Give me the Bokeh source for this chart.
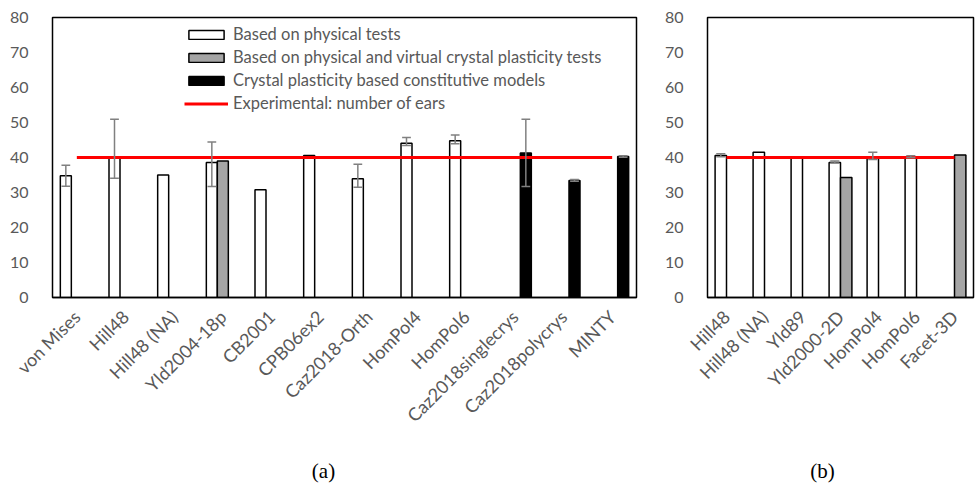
from math import pi
from bokeh.plotting import figure
from bokeh.layouts import row, column
from bokeh.models import ColumnDataSource, Legend, LegendItem, FactorRange, Range1d
from bokeh.core.properties import value
from bokeh.transform import dodge
from bokeh.embed import file_html
from bokeh.resources import INLINE

# ---------------- data: panel (a) ----------------
models_a = ["von Mises", "Hill48", "Hill48 (NA)", "Yld2004-18p", "CB2001", "CPB06ex2",
            "Caz2018-Orth", "HomPol4", "HomPol6", "Caz2018singlecrys", "Caz2018polycrys", "MINTY"]
physical_a = [34.8, 40.0, 35.0, 38.6, 30.8, 40.6, 33.9, 44.1, 44.8, None, None, None]
virtual_a = [None, None, None, 39.0, None, None, None, None, None, None, None, None]
crystal_a = [None, None, None, None, None, None, None, None, None, 41.3, 33.4, 40.3]
physical_hi_a = [37.8, 50.9, None, 44.4, None, None, 38.1, 45.7, 46.4, None, None, None]
physical_lo_a = [31.8, 34.1, None, 31.7, None, None, 31.5, 43.4, 43.9, None, None, None]
crystal_hi_a = [None, None, None, None, None, None, None, None, None, 50.9, 33.7, 40.5]
crystal_lo_a = [None, None, None, None, None, None, None, None, None, 31.7, 33.2, 40.1]

# ---------------- data: panel (b) ----------------
models_b = ["Hill48", "Hill48 (NA)", "Yld89", "Yld2000-2D", "HomPol4", "HomPol6", "Facet-3D"]
physical_b = [40.6, 41.5, 40.0, 38.6, 39.8, 40.2, None]
virtual_b = [None, None, None, 34.3, None, None, 40.7]
physical_hi_b = [41.1, None, None, 39.0, 41.5, 40.5, None]
physical_lo_b = [40.2, None, None, 38.4, 39.4, 39.9, None]

experimental_ears = 40
y_ticks = [0, 10, 20, 30, 40, 50, 60, 70, 80]

series_labels = ["Based on physical tests",
                 "Based on physical and virtual crystal plasticity tests",
                 "Crystal plasticity based constitutive models",
                 "Experimental: number of ears"]
captions = ["(a)", "(b)"]

FONT = "Lato"
TXT = "#595959"
ERR = "#808080"
MAIN_H = 458
CAP_H = 28


def bar_source(cats, vals):
    c = [k for k, v in zip(cats, vals) if v is not None]
    t = [v for v in vals if v is not None]
    return ColumnDataSource(dict(cat=c, top=t))


def err_source(cats, hi, lo):
    c = [k for k, h in zip(cats, hi) if h is not None]
    return ColumnDataSource(dict(cat=c,
                                 upper=[h for h in hi if h is not None],
                                 lower=[l for l in lo if l is not None]))


def make_fig(cats, width, mb_left, mb_right):
    p = figure(x_range=FactorRange(factors=cats), y_range=Range1d(0, 80),
               width=width, height=MAIN_H, output_backend="svg", toolbar_location=None,
               min_border_left=mb_left, min_border_right=mb_right,
               min_border_top=17, min_border_bottom=MAIN_H - 17 - 280)
    p.xgrid.visible = False
    p.ygrid.visible = False
    p.outline_line_color = "black"
    p.outline_line_width = 1.5
    p.outline_line_alpha = 1.0
    p.background_fill_color = "white"
    p.border_fill_color = "white"
    p.yaxis.ticker = y_ticks
    p.yaxis.axis_line_color = None
    p.yaxis.major_tick_line_color = None
    p.yaxis.minor_tick_line_color = None
    p.yaxis.major_label_standoff = 18
    p.yaxis.major_label_text_font = FONT
    p.yaxis.major_label_text_font_size = "16px"
    p.yaxis.major_label_text_color = TXT
    p.xaxis.axis_line_color = "black"
    p.xaxis.axis_line_width = 1.5
    p.xaxis.major_tick_line_color = None
    p.xaxis.minor_tick_line_color = None
    p.xaxis.major_label_orientation = pi / 4
    p.xaxis.major_label_standoff = 10
    p.xaxis.major_label_text_font = FONT
    p.xaxis.major_label_text_font_size = "18px"
    p.xaxis.major_label_text_color = TXT
    return p


def add_bars(p, cats, vals, offset, w, fill):
    src = bar_source(cats, vals)
    return p.vbar(x=dodge("cat", offset, range=p.x_range), top="top", bottom=0, width=w,
                  source=src, fill_color=fill, line_color="black", line_width=1.5)


def add_err(p, cats, hi, lo, offset, capw):
    src = err_source(cats, hi, lo)
    p.segment(x0=dodge("cat", offset, range=p.x_range), y0="lower",
              x1=dodge("cat", offset, range=p.x_range), y1="upper",
              source=src, line_color=ERR, line_width=1.5)
    for col in ("upper", "lower"):
        p.segment(x0=dodge("cat", offset - capw / 2, range=p.x_range), y0=col,
                  x1=dodge("cat", offset + capw / 2, range=p.x_range), y1=col,
                  source=src, line_color=ERR, line_width=1.5)


def add_exp(p, cats):
    src = ColumnDataSource(dict(cat=[cats[0], cats[-1]], y=[experimental_ears] * 2))
    return p.line(x="cat", y="y", source=src, line_color="#FF0000", line_width=3)


# ---------------- panel (a) ----------------
wa = 0.226
pa = make_fig(models_a, 660, 52, 24)
r1 = add_bars(pa, models_a, physical_a, -wa, wa, "white")
r2 = add_bars(pa, models_a, virtual_a, 0.0, wa, "#A5A5A5")
r3 = add_bars(pa, models_a, crystal_a, wa, wa, "black")
r4 = add_exp(pa, models_a)
add_err(pa, models_a, physical_hi_a, physical_lo_a, -wa, 0.18)
add_err(pa, models_a, crystal_hi_a, crystal_lo_a, wa, 0.18)

legend = Legend(items=[LegendItem(label=series_labels[0], renderers=[r1]),
                       LegendItem(label=series_labels[1], renderers=[r2]),
                       LegendItem(label=series_labels[2], renderers=[r3]),
                       LegendItem(label=series_labels[3], renderers=[r4])],
                location=(132, 184), orientation="vertical",
                glyph_width=44, glyph_height=11, label_height=19, spacing=3,
                label_standoff=5, padding=0, margin=0,
                label_text_font=FONT, label_text_font_size="16.5px", label_text_color=TXT,
                background_fill_alpha=0, border_line_color=None)
pa.add_layout(legend)

# ---------------- panel (b) ----------------
wb = 0.30
pb = make_fig(models_b, 315, 47, 2)
add_bars(pb, models_b, physical_b, -wb / 2, wb, "white")
add_bars(pb, models_b, virtual_b, wb / 2, wb, "#A5A5A5")
add_exp(pb, models_b)
add_err(pb, models_b, physical_hi_b, physical_lo_b, -wb / 2, 0.24)

# ---------------- caption strip ----------------
cap = figure(width=975, height=CAP_H, x_range=Range1d(0, 975), y_range=Range1d(0, CAP_H),
             output_backend="svg", toolbar_location=None,
             x_axis_location=None, y_axis_location=None,
             min_border_left=0, min_border_right=0, min_border_top=0, min_border_bottom=0)
cap.xgrid.visible = False
cap.ygrid.visible = False
cap.outline_line_color = None
cap.background_fill_color = "white"
cap.border_fill_color = "white"
cap_src = ColumnDataSource(dict(x=[323, 822], y=[16, 16], text=captions))
cap.text(x="x", y="y", text="text", source=cap_src, text_align="center",
         text_baseline="middle", text_font=value("Liberation Serif"),
         text_font_size="21px", text_color="black")

layout = column(row(pa, pb, spacing=0), cap, spacing=0)
open("out.html", "w").write(file_html(layout, INLINE))
